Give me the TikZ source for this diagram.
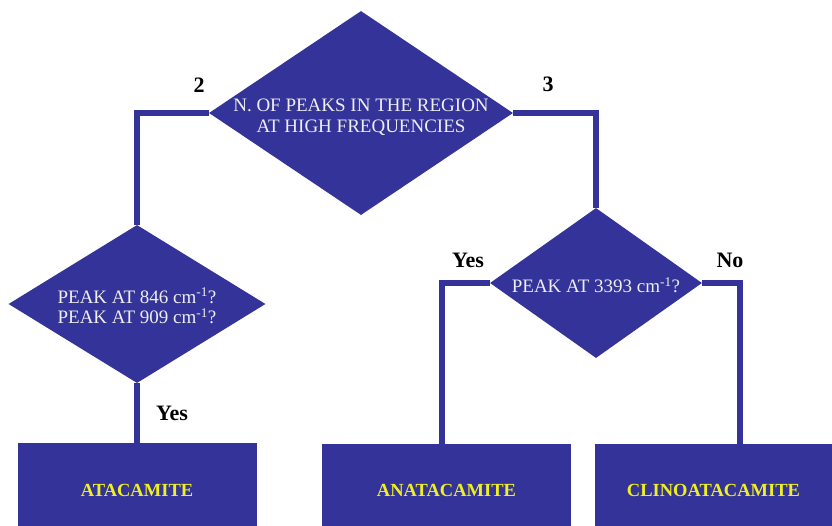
\documentclass[tikz,border=0pt]{standalone}
\usepackage{fontspec}
\setmainfont{Liberation Serif}
\usetikzlibrary{shapes.geometric}
\definecolor{fcblue}{RGB}{51,51,153}
\definecolor{fctext}{RGB}{238,238,238}
\definecolor{fcyellow}{RGB}{240,240,30}
\begin{document}
\begin{tikzpicture}[x=1pt,y=-1pt,
  decision/.style={diamond,fill=fcblue,draw=none,inner sep=0pt},
  dtext/.style={text=fctext,align=center,font=\fontsize{19}{20.5}\selectfont,inner sep=0pt},
  result/.style={rectangle,fill=fcblue,draw=none,inner sep=0pt,text=fcyellow,font=\fontsize{18.5}{21}\selectfont\bfseries},
  conn/.style={draw=fcblue,line width=6.5pt,line join=miter},
  lbl/.style={text=black,font=\fontsize{22}{24}\selectfont\bfseries,inner sep=0pt}]
\useasboundingbox (0,0) rectangle (832,525);
\clip (0,0) rectangle (832,525);
% decisions
\node[decision,minimum width=304pt,minimum height=204pt] (d1) at (361,113) {};
\node[decision,minimum width=257pt,minimum height=158pt] (d2) at (137,304) {};
\node[decision,minimum width=212pt,minimum height=150pt] (d3) at (596,283) {};
\node[dtext] (t1) at (361,117) {N. OF PEAKS IN THE REGION\\AT HIGH FREQUENCIES};
\node[dtext] (t2) at (137,306) {PEAK AT 846 cm\textsuperscript{-1}?\\PEAK AT 909 cm\textsuperscript{-1}?};
\node[dtext] (t3) at (596,285) {PEAK AT 3393 cm\textsuperscript{-1}?};
% results
\node[result,minimum width=239pt,minimum height=94pt] (b1) at (137,490) {ATACAMITE};
\node[result,minimum width=249pt,minimum height=92pt] (b2) at (446.5,490) {ANATACAMITE};
\node[result,minimum width=237pt,minimum height=92pt] (b3) at (713.5,490) {CLINOATACAMITE};
% connectors
\draw[conn] (d1.west) -| (d2.north);
\draw[conn] (d1.east) -| (d3.north);
\draw[conn] (d2.south) -- (b1.north);
\draw[conn] (d3.west) -| ([xshift=-4.5pt]b2.north);
\draw[conn] (d3.east) -| ([xshift=26.5pt]b3.north);
% labels
\node[lbl] (l2) at (199,85) {2};
\node[lbl] (l3) at (548,84) {3};
\node[lbl] (ly1) at (172,413) {Yes};
\node[lbl] (ly2) at (468,260) {Yes};
\node[lbl] (lno) at (730,260) {No};
\end{tikzpicture}
\end{document}
